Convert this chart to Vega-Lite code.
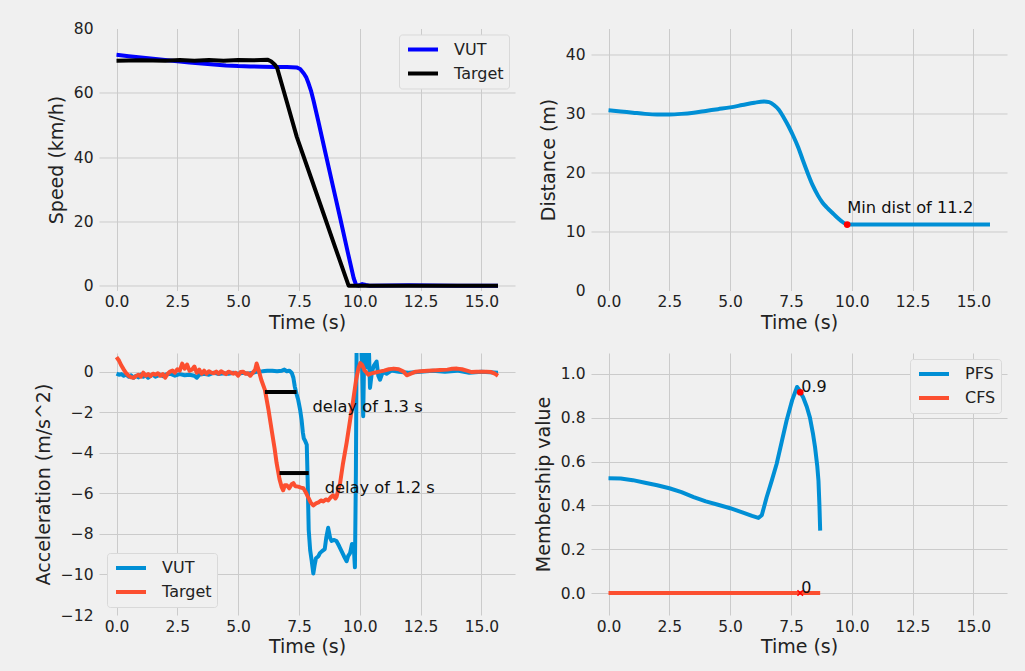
{
  "$schema": "https://vega.github.io/schema/vega-lite/v6.json",
  "autosize": {"type": "none"},
  "padding": {"left": 99, "top": 28.5, "right": 926, "bottom": 642.5},
  "background": "#f0f0f0",
  "columns": 2,
  "bounds": "flush",
  "spacing": {"row": 62.5, "column": 76},
  "resolve": {"scale": {"color": "independent"}, "legend": {"color": "independent"}},
  "datasets": {
    "speed": [
      {"s": "VUT", "t": 0, "v": 71.8}, {"s": "VUT", "t": 0.5, "v": 71.4}, {"s": "VUT", "t": 1.0, "v": 71.0}, {"s": "VUT", "t": 1.5, "v": 70.6},
      {"s": "VUT", "t": 2.0, "v": 70.2}, {"s": "VUT", "t": 2.5, "v": 69.8}, {"s": "VUT", "t": 3.0, "v": 69.4}, {"s": "VUT", "t": 3.5, "v": 69.1},
      {"s": "VUT", "t": 4.0, "v": 68.8}, {"s": "VUT", "t": 4.5, "v": 68.5}, {"s": "VUT", "t": 5.0, "v": 68.3}, {"s": "VUT", "t": 5.5, "v": 68.2},
      {"s": "VUT", "t": 6.0, "v": 68.1}, {"s": "VUT", "t": 6.5, "v": 68.0}, {"s": "VUT", "t": 7.0, "v": 68.0}, {"s": "VUT", "t": 7.4, "v": 67.9},
      {"s": "VUT", "t": 7.55, "v": 67.4}, {"s": "VUT", "t": 7.7, "v": 66.0}, {"s": "VUT", "t": 7.8, "v": 64.8}, {"s": "VUT", "t": 7.9, "v": 62.8},
      {"s": "VUT", "t": 8.0, "v": 60.5}, {"s": "VUT", "t": 8.1, "v": 57.5}, {"s": "VUT", "t": 8.3, "v": 51.0}, {"s": "VUT", "t": 8.6, "v": 40.9},
      {"s": "VUT", "t": 8.9, "v": 30.8}, {"s": "VUT", "t": 9.2, "v": 20.8}, {"s": "VUT", "t": 9.5, "v": 10.6}, {"s": "VUT", "t": 9.75, "v": 2.3},
      {"s": "VUT", "t": 9.85, "v": 0.2}, {"s": "VUT", "t": 9.95, "v": 0}, {"s": "VUT", "t": 10.1, "v": 0.5}, {"s": "VUT", "t": 10.25, "v": 0.2},
      {"s": "VUT", "t": 10.4, "v": 0}, {"s": "VUT", "t": 12.0, "v": 0.1}, {"s": "VUT", "t": 14.0, "v": 0}, {"s": "VUT", "t": 15.68, "v": 0},
      {"s": "Target", "t": 0, "v": 70.0}, {"s": "Target", "t": 1.0, "v": 70.1}, {"s": "Target", "t": 2.0, "v": 70.0}, {"s": "Target", "t": 2.6, "v": 70.2},
      {"s": "Target", "t": 3.2, "v": 70.0}, {"s": "Target", "t": 3.8, "v": 70.2}, {"s": "Target", "t": 4.4, "v": 70.0}, {"s": "Target", "t": 5.0, "v": 70.2},
      {"s": "Target", "t": 5.6, "v": 70.1}, {"s": "Target", "t": 6.2, "v": 70.3}, {"s": "Target", "t": 6.35, "v": 69.8}, {"s": "Target", "t": 6.5, "v": 68.8},
      {"s": "Target", "t": 6.6, "v": 67.8}, {"s": "Target", "t": 7.0, "v": 57.2}, {"s": "Target", "t": 7.41, "v": 46.3}, {"s": "Target", "t": 8.0, "v": 33.5},
      {"s": "Target", "t": 8.5, "v": 22.6}, {"s": "Target", "t": 9.0, "v": 11.7}, {"s": "Target", "t": 9.54, "v": 0}, {"s": "Target", "t": 10.5, "v": 0},
      {"s": "Target", "t": 12.5, "v": 0}, {"s": "Target", "t": 15.68, "v": 0}
    ],
    "distance": [
      {"t": 0, "d": 30.6}, {"t": 0.5, "d": 30.4}, {"t": 1.0, "d": 30.2}, {"t": 1.5, "d": 30.0}, {"t": 2.0, "d": 29.9},
      {"t": 2.5, "d": 29.9}, {"t": 3.0, "d": 30.0}, {"t": 3.5, "d": 30.2}, {"t": 4.0, "d": 30.5}, {"t": 4.5, "d": 30.8},
      {"t": 5.0, "d": 31.1}, {"t": 5.5, "d": 31.5}, {"t": 6.0, "d": 31.9}, {"t": 6.4, "d": 32.1}, {"t": 6.6, "d": 32.0},
      {"t": 6.8, "d": 31.5}, {"t": 7.0, "d": 30.7}, {"t": 7.2, "d": 29.4}, {"t": 7.4, "d": 27.9}, {"t": 7.6, "d": 26.2},
      {"t": 7.8, "d": 24.3}, {"t": 8.0, "d": 22.0}, {"t": 8.2, "d": 19.8}, {"t": 8.4, "d": 17.8}, {"t": 8.6, "d": 16.2},
      {"t": 8.8, "d": 14.9}, {"t": 9.0, "d": 14.0}, {"t": 9.2, "d": 13.2}, {"t": 9.4, "d": 12.4}, {"t": 9.6, "d": 11.7},
      {"t": 9.81, "d": 11.2}, {"t": 11.0, "d": 11.2}, {"t": 13.0, "d": 11.2}, {"t": 15.68, "d": 11.2}
    ],
    "minDist": [{"t": 9.81, "d": 11.2}],
    "accel": [
      {"s": "VUT", "t": 0.0, "a": -0.1}, {"s": "VUT", "t": 0.1, "a": -0.15}, {"s": "VUT", "t": 0.2, "a": -0.12}, {"s": "VUT", "t": 0.3, "a": -0.2},
      {"s": "VUT", "t": 0.4, "a": -0.15}, {"s": "VUT", "t": 0.5, "a": -0.25}, {"s": "VUT", "t": 0.6, "a": -0.18}, {"s": "VUT", "t": 0.7, "a": -0.3},
      {"s": "VUT", "t": 0.8, "a": -0.2}, {"s": "VUT", "t": 0.9, "a": -0.28}, {"s": "VUT", "t": 1.0, "a": -0.15}, {"s": "VUT", "t": 1.1, "a": -0.25},
      {"s": "VUT", "t": 1.2, "a": -0.18}, {"s": "VUT", "t": 1.3, "a": -0.3}, {"s": "VUT", "t": 1.4, "a": -0.2}, {"s": "VUT", "t": 1.5, "a": -0.15},
      {"s": "VUT", "t": 1.6, "a": -0.25}, {"s": "VUT", "t": 1.7, "a": -0.2}, {"s": "VUT", "t": 1.8, "a": -0.15}, {"s": "VUT", "t": 1.9, "a": -0.22},
      {"s": "VUT", "t": 2.0, "a": -0.15}, {"s": "VUT", "t": 2.2, "a": -0.1}, {"s": "VUT", "t": 2.4, "a": -0.2}, {"s": "VUT", "t": 2.6, "a": -0.12},
      {"s": "VUT", "t": 2.8, "a": -0.18}, {"s": "VUT", "t": 3.0, "a": -0.15}, {"s": "VUT", "t": 3.2, "a": -0.2}, {"s": "VUT", "t": 3.3, "a": -0.3},
      {"s": "VUT", "t": 3.4, "a": -0.15}, {"s": "VUT", "t": 3.6, "a": -0.1}, {"s": "VUT", "t": 3.8, "a": -0.15}, {"s": "VUT", "t": 4.0, "a": -0.05},
      {"s": "VUT", "t": 4.2, "a": -0.12}, {"s": "VUT", "t": 4.4, "a": -0.08}, {"s": "VUT", "t": 4.6, "a": -0.1}, {"s": "VUT", "t": 4.8, "a": -0.05},
      {"s": "VUT", "t": 5.0, "a": -0.1}, {"s": "VUT", "t": 5.2, "a": -0.05}, {"s": "VUT", "t": 5.4, "a": -0.1}, {"s": "VUT", "t": 5.6, "a": -0.05},
      {"s": "VUT", "t": 5.8, "a": 0.0}, {"s": "VUT", "t": 6.0, "a": 0.02}, {"s": "VUT", "t": 6.2, "a": 0.05}, {"s": "VUT", "t": 6.4, "a": 0.05},
      {"s": "VUT", "t": 6.6, "a": 0.02}, {"s": "VUT", "t": 6.8, "a": 0.05}, {"s": "VUT", "t": 6.9, "a": 0.1}, {"s": "VUT", "t": 7.0, "a": 0.02},
      {"s": "VUT", "t": 7.1, "a": 0.05}, {"s": "VUT", "t": 7.2, "a": -0.05}, {"s": "VUT", "t": 7.27, "a": -0.3}, {"s": "VUT", "t": 7.33, "a": -0.75},
      {"s": "VUT", "t": 7.4, "a": -1.1}, {"s": "VUT", "t": 7.47, "a": -1.4}, {"s": "VUT", "t": 7.55, "a": -1.9}, {"s": "VUT", "t": 7.61, "a": -2.4},
      {"s": "VUT", "t": 7.66, "a": -3.0}, {"s": "VUT", "t": 7.7, "a": -3.3}, {"s": "VUT", "t": 7.75, "a": -3.4}, {"s": "VUT", "t": 7.82, "a": -3.6},
      {"s": "VUT", "t": 7.86, "a": -5.5}, {"s": "VUT", "t": 7.9, "a": -7.8}, {"s": "VUT", "t": 7.96, "a": -8.8}, {"s": "VUT", "t": 8.02, "a": -9.3},
      {"s": "VUT", "t": 8.09, "a": -9.95}, {"s": "VUT", "t": 8.15, "a": -9.5}, {"s": "VUT", "t": 8.2, "a": -9.2}, {"s": "VUT", "t": 8.3, "a": -9.1},
      {"s": "VUT", "t": 8.36, "a": -8.95}, {"s": "VUT", "t": 8.45, "a": -8.85}, {"s": "VUT", "t": 8.56, "a": -8.75}, {"s": "VUT", "t": 8.62, "a": -8.2},
      {"s": "VUT", "t": 8.7, "a": -7.7}, {"s": "VUT", "t": 8.78, "a": -8.2}, {"s": "VUT", "t": 8.84, "a": -8.35}, {"s": "VUT", "t": 8.95, "a": -8.3},
      {"s": "VUT", "t": 9.04, "a": -8.35}, {"s": "VUT", "t": 9.15, "a": -8.6}, {"s": "VUT", "t": 9.25, "a": -8.85}, {"s": "VUT", "t": 9.35, "a": -9.1},
      {"s": "VUT", "t": 9.46, "a": -9.35}, {"s": "VUT", "t": 9.52, "a": -9.1}, {"s": "VUT", "t": 9.6, "a": -8.95}, {"s": "VUT", "t": 9.68, "a": -8.5},
      {"s": "VUT", "t": 9.75, "a": -8.6}, {"s": "VUT", "t": 9.8, "a": -9.65}, {"s": "VUT", "t": 9.84, "a": -5.0}, {"s": "VUT", "t": 9.87, "a": 1.5},
      {"s": "VUT", "t": 9.95, "a": 1.4}, {"s": "VUT", "t": 10.05, "a": 1.5}, {"s": "VUT", "t": 10.1, "a": 0.0}, {"s": "VUT", "t": 10.14, "a": -2.2},
      {"s": "VUT", "t": 10.19, "a": 1.5}, {"s": "VUT", "t": 10.26, "a": 1.4}, {"s": "VUT", "t": 10.32, "a": 0.2}, {"s": "VUT", "t": 10.38, "a": 0.9},
      {"s": "VUT", "t": 10.42, "a": -0.8}, {"s": "VUT", "t": 10.5, "a": 0.0}, {"s": "VUT", "t": 10.58, "a": 0.3}, {"s": "VUT", "t": 10.69, "a": 0.5},
      {"s": "VUT", "t": 10.76, "a": -0.2}, {"s": "VUT", "t": 10.83, "a": -0.4}, {"s": "VUT", "t": 10.95, "a": 0.0}, {"s": "VUT", "t": 11.1, "a": -0.1},
      {"s": "VUT", "t": 11.3, "a": 0.05}, {"s": "VUT", "t": 11.6, "a": 0.0}, {"s": "VUT", "t": 12.0, "a": -0.05}, {"s": "VUT", "t": 12.5, "a": 0.0},
      {"s": "VUT", "t": 13.0, "a": 0.05}, {"s": "VUT", "t": 13.5, "a": 0.0}, {"s": "VUT", "t": 14.0, "a": 0.05}, {"s": "VUT", "t": 14.5, "a": -0.05},
      {"s": "VUT", "t": 15.0, "a": 0.0}, {"s": "VUT", "t": 15.68, "a": -0.05},
      {"s": "Target", "t": 0.0, "a": 0.72}, {"s": "Target", "t": 0.1, "a": 0.55}, {"s": "Target", "t": 0.2, "a": 0.3}, {"s": "Target", "t": 0.3, "a": 0.1},
      {"s": "Target", "t": 0.4, "a": -0.08}, {"s": "Target", "t": 0.5, "a": -0.2}, {"s": "Target", "t": 0.6, "a": -0.28}, {"s": "Target", "t": 0.7, "a": -0.3},
      {"s": "Target", "t": 0.8, "a": -0.22}, {"s": "Target", "t": 0.9, "a": -0.15}, {"s": "Target", "t": 1.0, "a": -0.25}, {"s": "Target", "t": 1.1, "a": -0.05},
      {"s": "Target", "t": 1.2, "a": -0.2}, {"s": "Target", "t": 1.3, "a": -0.12}, {"s": "Target", "t": 1.4, "a": -0.22}, {"s": "Target", "t": 1.5, "a": -0.1},
      {"s": "Target", "t": 1.6, "a": -0.15}, {"s": "Target", "t": 1.7, "a": -0.08}, {"s": "Target", "t": 1.8, "a": -0.2}, {"s": "Target", "t": 1.9, "a": -0.12},
      {"s": "Target", "t": 2.0, "a": -0.3}, {"s": "Target", "t": 2.1, "a": -0.1}, {"s": "Target", "t": 2.2, "a": 0.0}, {"s": "Target", "t": 2.3, "a": 0.05},
      {"s": "Target", "t": 2.4, "a": -0.05}, {"s": "Target", "t": 2.5, "a": 0.12}, {"s": "Target", "t": 2.6, "a": 0.05}, {"s": "Target", "t": 2.7, "a": 0.4},
      {"s": "Target", "t": 2.8, "a": 0.15}, {"s": "Target", "t": 2.9, "a": 0.35}, {"s": "Target", "t": 3.0, "a": 0.05}, {"s": "Target", "t": 3.1, "a": 0.1},
      {"s": "Target", "t": 3.2, "a": 0.25}, {"s": "Target", "t": 3.3, "a": -0.05}, {"s": "Target", "t": 3.4, "a": 0.1}, {"s": "Target", "t": 3.5, "a": -0.1},
      {"s": "Target", "t": 3.6, "a": 0.05}, {"s": "Target", "t": 3.7, "a": -0.1}, {"s": "Target", "t": 3.8, "a": 0.02}, {"s": "Target", "t": 3.9, "a": -0.05},
      {"s": "Target", "t": 4.0, "a": -0.08}, {"s": "Target", "t": 4.1, "a": 0.0}, {"s": "Target", "t": 4.2, "a": -0.1}, {"s": "Target", "t": 4.3, "a": 0.02},
      {"s": "Target", "t": 4.4, "a": -0.05}, {"s": "Target", "t": 4.5, "a": -0.12}, {"s": "Target", "t": 4.6, "a": 0.0}, {"s": "Target", "t": 4.7, "a": -0.05},
      {"s": "Target", "t": 4.8, "a": -0.1}, {"s": "Target", "t": 4.9, "a": -0.05}, {"s": "Target", "t": 5.0, "a": -0.2}, {"s": "Target", "t": 5.1, "a": -0.02},
      {"s": "Target", "t": 5.2, "a": 0.0}, {"s": "Target", "t": 5.3, "a": -0.1}, {"s": "Target", "t": 5.4, "a": -0.08}, {"s": "Target", "t": 5.5, "a": -0.2},
      {"s": "Target", "t": 5.6, "a": -0.05}, {"s": "Target", "t": 5.7, "a": 0.1}, {"s": "Target", "t": 5.76, "a": 0.4}, {"s": "Target", "t": 5.85, "a": 0.05},
      {"s": "Target", "t": 5.95, "a": -0.4}, {"s": "Target", "t": 6.1, "a": -0.9}, {"s": "Target", "t": 6.25, "a": -1.9}, {"s": "Target", "t": 6.38, "a": -2.9},
      {"s": "Target", "t": 6.5, "a": -3.8}, {"s": "Target", "t": 6.58, "a": -4.5}, {"s": "Target", "t": 6.7, "a": -5.3}, {"s": "Target", "t": 6.79, "a": -5.7},
      {"s": "Target", "t": 6.85, "a": -5.85}, {"s": "Target", "t": 6.92, "a": -5.6}, {"s": "Target", "t": 7.0, "a": -5.6}, {"s": "Target", "t": 7.1, "a": -5.75},
      {"s": "Target", "t": 7.2, "a": -5.55}, {"s": "Target", "t": 7.27, "a": -5.5}, {"s": "Target", "t": 7.35, "a": -5.65}, {"s": "Target", "t": 7.47, "a": -5.67},
      {"s": "Target", "t": 7.58, "a": -5.72}, {"s": "Target", "t": 7.68, "a": -5.75}, {"s": "Target", "t": 7.78, "a": -5.95}, {"s": "Target", "t": 7.88, "a": -6.2},
      {"s": "Target", "t": 7.98, "a": -6.45}, {"s": "Target", "t": 8.09, "a": -6.6}, {"s": "Target", "t": 8.2, "a": -6.5}, {"s": "Target", "t": 8.3, "a": -6.45},
      {"s": "Target", "t": 8.4, "a": -6.35}, {"s": "Target", "t": 8.5, "a": -6.4}, {"s": "Target", "t": 8.6, "a": -6.3}, {"s": "Target", "t": 8.7, "a": -6.35},
      {"s": "Target", "t": 8.8, "a": -6.2}, {"s": "Target", "t": 8.9, "a": -6.1}, {"s": "Target", "t": 9.0, "a": -6.25}, {"s": "Target", "t": 9.05, "a": -6.15},
      {"s": "Target", "t": 9.12, "a": -5.8}, {"s": "Target", "t": 9.19, "a": -5.5}, {"s": "Target", "t": 9.3, "a": -4.6}, {"s": "Target", "t": 9.46, "a": -3.5},
      {"s": "Target", "t": 9.6, "a": -2.4}, {"s": "Target", "t": 9.73, "a": -1.4}, {"s": "Target", "t": 9.85, "a": -0.4}, {"s": "Target", "t": 9.95, "a": 0.2},
      {"s": "Target", "t": 10.02, "a": 0.42}, {"s": "Target", "t": 10.1, "a": 0.33}, {"s": "Target", "t": 10.2, "a": 0.05}, {"s": "Target", "t": 10.28, "a": -0.05},
      {"s": "Target", "t": 10.35, "a": -0.15}, {"s": "Target", "t": 10.45, "a": -0.1}, {"s": "Target", "t": 10.6, "a": -0.05}, {"s": "Target", "t": 10.8, "a": 0.0},
      {"s": "Target", "t": 11.0, "a": 0.05}, {"s": "Target", "t": 11.2, "a": 0.12}, {"s": "Target", "t": 11.4, "a": 0.15}, {"s": "Target", "t": 11.6, "a": 0.12},
      {"s": "Target", "t": 11.8, "a": 0.0}, {"s": "Target", "t": 11.93, "a": -0.18}, {"s": "Target", "t": 12.1, "a": -0.1}, {"s": "Target", "t": 12.3, "a": 0.0},
      {"s": "Target", "t": 12.5, "a": 0.02}, {"s": "Target", "t": 12.8, "a": 0.05}, {"s": "Target", "t": 13.0, "a": 0.06}, {"s": "Target", "t": 13.3, "a": 0.08},
      {"s": "Target", "t": 13.6, "a": 0.1}, {"s": "Target", "t": 13.8, "a": 0.14}, {"s": "Target", "t": 14.0, "a": 0.15}, {"s": "Target", "t": 14.2, "a": 0.12},
      {"s": "Target", "t": 14.4, "a": 0.05}, {"s": "Target", "t": 14.6, "a": -0.02}, {"s": "Target", "t": 14.8, "a": 0.0}, {"s": "Target", "t": 15.0, "a": 0.0},
      {"s": "Target", "t": 15.2, "a": 0.0}, {"s": "Target", "t": 15.4, "a": -0.02}, {"s": "Target", "t": 15.55, "a": -0.1}, {"s": "Target", "t": 15.68, "a": -0.2}
    ],
    "delays": [
      {"t0": 6.1, "t1": 7.4, "level": -1, "label": "delay of 1.3 s"},
      {"t0": 6.7, "t1": 7.9, "level": -5, "label": "delay of 1.2 s"}
    ],
    "membership": [
      {"s": "PFS", "t": 0, "m": 0.524}, {"s": "PFS", "t": 0.5, "m": 0.523}, {"s": "PFS", "t": 1.0, "m": 0.515}, {"s": "PFS", "t": 1.5, "m": 0.503},
      {"s": "PFS", "t": 2.0, "m": 0.492}, {"s": "PFS", "t": 2.5, "m": 0.478}, {"s": "PFS", "t": 3.0, "m": 0.46}, {"s": "PFS", "t": 3.5, "m": 0.438},
      {"s": "PFS", "t": 4.0, "m": 0.418}, {"s": "PFS", "t": 4.5, "m": 0.403}, {"s": "PFS", "t": 5.0, "m": 0.387}, {"s": "PFS", "t": 5.5, "m": 0.368},
      {"s": "PFS", "t": 5.9, "m": 0.352}, {"s": "PFS", "t": 6.16, "m": 0.343}, {"s": "PFS", "t": 6.3, "m": 0.355}, {"s": "PFS", "t": 6.5, "m": 0.437},
      {"s": "PFS", "t": 6.71, "m": 0.513}, {"s": "PFS", "t": 6.91, "m": 0.589}, {"s": "PFS", "t": 7.12, "m": 0.69}, {"s": "PFS", "t": 7.32, "m": 0.787},
      {"s": "PFS", "t": 7.55, "m": 0.88}, {"s": "PFS", "t": 7.75, "m": 0.94}, {"s": "PFS", "t": 7.82, "m": 0.93}, {"s": "PFS", "t": 7.88, "m": 0.916},
      {"s": "PFS", "t": 8.0, "m": 0.893}, {"s": "PFS", "t": 8.15, "m": 0.85}, {"s": "PFS", "t": 8.28, "m": 0.8}, {"s": "PFS", "t": 8.4, "m": 0.73},
      {"s": "PFS", "t": 8.49, "m": 0.665}, {"s": "PFS", "t": 8.58, "m": 0.58}, {"s": "PFS", "t": 8.63, "m": 0.513}, {"s": "PFS", "t": 8.67, "m": 0.4},
      {"s": "PFS", "t": 8.7, "m": 0.285},
      {"s": "CFS", "t": 0, "m": 0}, {"s": "CFS", "t": 8.7, "m": 0}
    ],
    "peaks": [
      {"s": "PFS", "t": 7.88, "m": 0.916},
      {"s": "CFS", "t": 7.88, "m": 0}
    ]
  },
  "concat": [
    {
      "width": 416,
      "height": 262,
      "data": {"name": "speed"},
      "mark": {"type": "line", "strokeWidth": 4, "clip": true, "strokeJoin": "round"},
      "encoding": {
        "x": {"field": "t", "type": "quantitative", "scale": {"domain": [-0.72, 16.38], "nice": false, "zero": false},
              "axis": {"title": "Time (s)", "values": [0, 2.5, 5, 7.5, 10, 12.5, 15], "format": ".1f"}},
        "y": {"field": "v", "type": "quantitative", "scale": {"domain": [-1.5, 80], "nice": false, "zero": false},
              "axis": {"title": "Speed (km/h)", "values": [0, 20, 40, 60, 80],
                       "gridOpacity": {"condition": {"test": "datum.value === 80", "value": 0}, "value": 1}}},
        "color": {"field": "s", "type": "nominal", "scale": {"domain": ["VUT", "Target"], "range": ["#0000ff", "#000000"]},
                  "legend": {"title": null, "orient": "top-right", "offset": 6}}
      }
    },
    {
      "width": 416,
      "height": 262,
      "encoding": {
        "x": {"field": "t", "type": "quantitative", "scale": {"domain": [-0.72, 16.38], "nice": false, "zero": false},
              "axis": {"title": "Time (s)", "values": [0, 2.5, 5, 7.5, 10, 12.5, 15], "format": ".1f"}},
        "y": {"field": "d", "type": "quantitative", "scale": {"domain": [0, 44.5], "nice": false, "zero": false},
              "axis": {"title": "Distance (m)", "values": [0, 10, 20, 30, 40],
                       "gridOpacity": {"condition": {"test": "datum.value === 0", "value": 0}, "value": 1}}}
      },
      "layer": [
        {"data": {"name": "distance"}, "mark": {"type": "line", "strokeWidth": 4, "color": "#008fd5", "clip": true, "strokeJoin": "round", "interpolate": "monotone"}},
        {"data": {"name": "minDist"}, "mark": {"type": "point", "filled": true, "color": "#ff0000", "size": 45, "opacity": 1}},
        {"data": {"name": "minDist"},
         "transform": [{"calculate": "'Min dist of ' + datum.d", "as": "label"}],
         "mark": {"type": "text", "align": "left", "baseline": "alphabetic", "dy": -12, "fontSize": 16.3, "color": "#111111"},
         "encoding": {"text": {"field": "label"}}}
      ]
    },
    {
      "width": 416,
      "height": 262,
      "encoding": {
        "x": {"type": "quantitative", "scale": {"domain": [-0.72, 16.38], "nice": false, "zero": false},
              "axis": {"title": "Time (s)", "values": [0, 2.5, 5, 7.5, 10, 12.5, 15], "format": ".1f"}}
      },
      "layer": [
        {
          "data": {"name": "accel"},
          "mark": {"type": "line", "strokeWidth": 4, "clip": true, "strokeJoin": "round"},
          "encoding": {
            "x": {"field": "t", "type": "quantitative"},
            "y": {"field": "a", "type": "quantitative", "scale": {"domain": [-12, 0.92], "nice": false, "zero": false},
                  "axis": {"title": "Acceleration (m/s^2)", "values": [-12, -10, -8, -6, -4, -2, 0],
                           "gridOpacity": {"condition": {"test": "datum.value === -12", "value": 0}, "value": 1}}},
            "color": {"field": "s", "type": "nominal", "scale": {"domain": ["VUT", "Target"], "range": ["#008fd5", "#fc4f30"]},
                      "legend": {"title": null, "orient": "bottom-left", "offset": 8}}
          }
        },
        {
          "data": {"name": "delays"},
          "mark": {"type": "rule", "strokeWidth": 4, "color": "#000000"},
          "encoding": {
            "x": {"field": "t0", "type": "quantitative"},
            "x2": {"field": "t1"},
            "y": {"field": "level", "type": "quantitative"}
          }
        },
        {
          "data": {"name": "delays"},
          "mark": {"type": "text", "align": "left", "baseline": "alphabetic", "dx": 16, "dy": 20, "fontSize": 16.3, "color": "#111111"},
          "encoding": {
            "x": {"field": "t1", "type": "quantitative"},
            "y": {"field": "level", "type": "quantitative"},
            "text": {"field": "label"}
          }
        }
      ]
    },
    {
      "width": 416,
      "height": 262,
      "encoding": {
        "x": {"field": "t", "type": "quantitative", "scale": {"domain": [-0.72, 16.38], "nice": false, "zero": false},
              "axis": {"title": "Time (s)", "values": [0, 2.5, 5, 7.5, 10, 12.5, 15], "format": ".1f"}},
        "y": {"field": "m", "type": "quantitative", "scale": {"domain": [-0.1, 1.095], "nice": false, "zero": false},
              "axis": {"title": "Membership value", "values": [0, 0.2, 0.4, 0.6, 0.8, 1.0], "format": ".1f"}}
      },
      "layer": [
        {
          "data": {"name": "membership"},
          "mark": {"type": "line", "strokeWidth": 4, "clip": true, "strokeJoin": "round"},
          "encoding": {
            "color": {"field": "s", "type": "nominal", "scale": {"domain": ["PFS", "CFS"], "range": ["#008fd5", "#fc4f30"]},
                      "legend": {"title": null, "orient": "top-right", "offset": 6}}
          }
        },
        {
          "data": {"name": "peaks"},
          "transform": [{"filter": "datum.s === 'PFS'"}],
          "mark": {"type": "point", "filled": true, "color": "#ff0000", "size": 45, "opacity": 1}
        },
        {
          "data": {"name": "peaks"},
          "transform": [{"filter": "datum.s === 'CFS'"}],
          "mark": {"type": "point", "shape": "M-1,-1L1,1M-1,1L1,-1", "filled": false, "color": "#ff0000", "strokeWidth": 1.5, "size": 30, "opacity": 1}
        },
        {
          "data": {"name": "peaks"},
          "mark": {"type": "text", "align": "left", "baseline": "alphabetic", "dx": 1, "fontSize": 16, "color": "#111111"},
          "encoding": {"text": {"field": "m", "type": "quantitative", "format": ".1~f"}}
        }
      ]
    }
  ],
  "config": {
    "font": "DejaVu Sans",
    "view": {"fill": "#f0f0f0", "stroke": null},
    "axis": {
      "domain": false,
      "ticks": false,
      "grid": true,
      "gridColor": "#cbcbcb",
      "gridWidth": 1,
      "labelFont": "DejaVu Sans",
      "labelFontSize": 15.5,
      "labelColor": "#222222",
      "titleFont": "DejaVu Sans",
      "titleFontSize": 19,
      "titleFontWeight": "normal",
      "titleColor": "#222222"
    },
    "axisX": {"labelPadding": 4, "titlePadding": 3},
    "axisY": {"labelPadding": 6, "titlePadding": 7},
    "legend": {
      "labelFont": "DejaVu Sans",
      "labelFontSize": 16,
      "labelColor": "#222222",
      "symbolType": "stroke",
      "symbolStrokeWidth": 4,
      "symbolSize": 900,
      "fillColor": "#f0f0f0",
      "strokeColor": "#d9d9d9",
      "cornerRadius": 3,
      "padding": 5,
      "clipHeight": 20,
      "rowPadding": 4,
      "symbolOffset": 2,
      "labelOffset": 14
    }
  }
}
